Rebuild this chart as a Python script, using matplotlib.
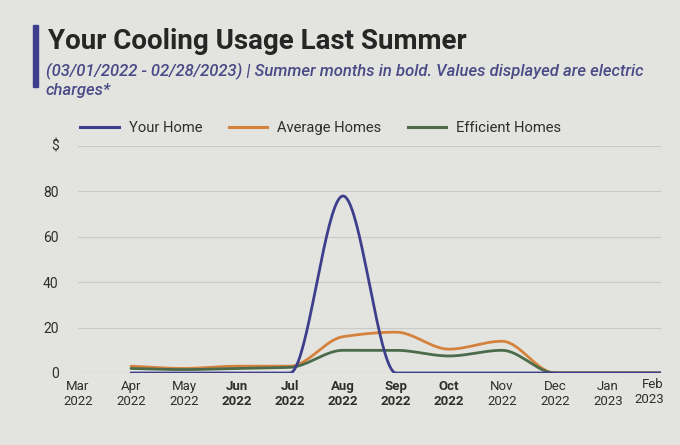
import numpy as np
import matplotlib
matplotlib.use("Agg")
import matplotlib.pyplot as plt
from matplotlib.lines import Line2D

months = ['Mar', 'Apr', 'May', 'Jun', 'Jul', 'Aug', 'Sep', 'Oct', 'Nov', 'Dec', 'Jan', 'Feb']
years = ['2022'] * 10 + ['2023', '2023']
summer = [False, False, False, True, True, True, True, True, False, False, False, False]

your_home = [np.nan, 0, 0, 0, 0, 78, 0, 0, 0, 0, 0, 0]
average_homes = [np.nan, 3, 2, 3, 3, 16, 18, 10.5, 14, 0, 0, 0]
efficient_homes = [np.nan, 2, 1.5, 2, 2.5, 10, 10, 7.5, 10, 0, 0, 0]
y_ticks = [0, 20, 40, 60, 80]

BG = '#e3e3e0'
C_YOU = '#3d3f8c'
C_AVG = '#d4823c'
C_EFF = '#4b6b4b'
TXT = '#2e2e2e'


def monotone(x, y, n=40):
    x = np.asarray(x, float); y = np.asarray(y, float)
    h = np.diff(x); d = np.diff(y) / h
    m = np.zeros_like(y)
    m[0], m[-1] = d[0], d[-1]
    for i in range(1, len(y) - 1):
        if d[i - 1] * d[i] <= 0:
            m[i] = 0
        else:
            w1 = 2 * h[i] + h[i - 1]; w2 = h[i] + 2 * h[i - 1]
            m[i] = (w1 + w2) / (w1 / d[i - 1] + w2 / d[i])
    xs, ys = [], []
    for i in range(len(x) - 1):
        t = np.linspace(0, 1, n)
        h00 = 2 * t**3 - 3 * t**2 + 1; h10 = t**3 - 2 * t**2 + t
        h01 = -2 * t**3 + 3 * t**2; h11 = t**3 - t**2
        xs.append(x[i] + t * h[i])
        ys.append(h00 * y[i] + h10 * h[i] * m[i] + h01 * y[i + 1] + h11 * h[i] * m[i + 1])
    return np.concatenate(xs), np.concatenate(ys)


fig = plt.figure(figsize=(6.8, 4.45), dpi=100, facecolor=BG)
plt.rcParams['font.family'] = ['Roboto', 'DejaVu Sans']

ax = fig.add_axes([78 / 680, 1 - 373 / 445, (661 - 78) / 680, (373 - 146) / 445])
ax.set_facecolor(BG)
ax.set_xlim(0, 11)
ax.set_ylim(0, 100)

xi = np.arange(len(months))
series = [(average_homes, C_AVG, 2), (efficient_homes, C_EFF, 2), (your_home, C_YOU, 3)]
for vals, col, z in series:
    v = np.asarray(vals, float)
    ok = ~np.isnan(v)
    xs, ys = monotone(xi[ok], v[ok])
    ax.plot(xs, ys, color=col, lw=2.0, zorder=z, solid_capstyle='round')

ax.set_yticks([0, 20, 40, 60, 80, 100])
ax.set_yticklabels([str(t) for t in y_ticks] + [''])
ax.grid(axis='y', color='#c9c9c6', lw=0.8)
ax.tick_params(axis='y', length=0, labelsize=10, labelcolor=TXT, pad=14)
ax.set_xticks(xi[:-1])
ax.set_xticklabels([f'{m}\n{y}' for m, y in zip(months[:-1], years[:-1])])
ax.tick_params(axis='x', length=0, labelsize=9.5, labelcolor=TXT, pad=5)
for lab, s in zip(ax.get_xticklabels(), summer[:-1]):
    lab.set_fontweight('bold' if s else 'normal')
    lab.set_linespacing(1.25)
ax.text(11.05, -0.022, f'{months[-1]}\n{years[-1]}', transform=ax.get_xaxis_transform(),
        ha='right', va='top', fontsize=9.5, color=TXT, linespacing=1.25)
for s in ax.spines.values():
    s.set_visible(False)
ax.axhline(0, color='#b5b5b2', lw=0.8, zorder=1)

fig.text(55 / 680, 1 - 146 / 445, '$', ha='center', va='center', fontsize=10, color=TXT)

# Title block
fig.patches.append(plt.Rectangle((33 / 680, 1 - 87 / 445), 5 / 680, 62 / 445,
                                 transform=fig.transFigure, color=C_YOU, zorder=5))
fig.text(48 / 680, 1 - 49 / 445, 'Your Cooling Usage Last Summer', ha='left', va='baseline',
         fontsize=20, fontweight='bold', color='#262626')
sub_kw = dict(ha='left', va='baseline', fontsize=12, style='italic', fontweight='medium',
              color='#4a4a86')
fig.text(46 / 680, 1 - 76 / 445,
         '(03/01/2022 - 02/28/2023) | Summer months in bold. Values displayed are electric', **sub_kw)
fig.text(46 / 680, 1 - 95 / 445, 'charges*', **sub_kw)

handles = [Line2D([], [], color=C_YOU, lw=2.2), Line2D([], [], color=C_AVG, lw=2.2),
           Line2D([], [], color=C_EFF, lw=2.2)]
leg = fig.legend(handles, ['Your Home', 'Average Homes', 'Efficient Homes'],
                 loc='center left', bbox_to_anchor=(70 / 680, 1 - 128 / 445), ncol=3,
                 frameon=False, fontsize=10.6, handlelength=2.6, handletextpad=0.68,
                 columnspacing=1.8, labelcolor=TXT, borderpad=0.2)

fig.savefig('out.png', dpi=100, facecolor=BG)
